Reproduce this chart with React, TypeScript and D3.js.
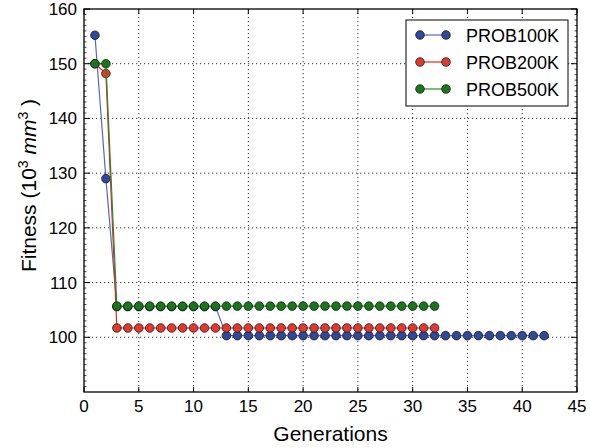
import React, { useRef, useEffect } from 'react'
import * as d3 from 'd3'

// fitness per generation
const prob100k = [155.2, 129.0, 105.6, 105.6, 105.6, 105.6, 105.6, 105.6, 105.6, 105.6, 105.6, 105.6,
  100.3, 100.3, 100.3, 100.3, 100.3, 100.3, 100.3, 100.3, 100.3, 100.3, 100.3, 100.3, 100.3, 100.3,
  100.3, 100.3, 100.3, 100.3, 100.3, 100.3, 100.3, 100.3, 100.3, 100.3, 100.3, 100.3, 100.3, 100.3,
  100.3, 100.3]
const prob200k = [150.0, 148.2, 101.7, 101.7, 101.7, 101.7, 101.7, 101.7, 101.7, 101.7, 101.7, 101.7,
  101.7, 101.7, 101.7, 101.7, 101.7, 101.7, 101.7, 101.7, 101.7, 101.7, 101.7, 101.7, 101.7, 101.7,
  101.7, 101.7, 101.7, 101.7, 101.7, 101.7]
const prob500k = [150.0, 150.0, 105.7, 105.7, 105.7, 105.7, 105.7, 105.7, 105.7, 105.7, 105.7, 105.7,
  105.7, 105.7, 105.7, 105.7, 105.7, 105.7, 105.7, 105.7, 105.7, 105.7, 105.7, 105.7, 105.7, 105.7,
  105.7, 105.7, 105.7, 105.7, 105.7, 105.7]

const seriesNames = ['PROB100K', 'PROB200K', 'PROB500K']
const xTicks = [0, 5, 10, 15, 20, 25, 30, 35, 40, 45]
const yTicks = [100, 110, 120, 130, 140, 150, 160]

const series = [
  { name: seriesNames[0], values: prob100k, line: '#5568c0', fill: '#2d4a9e' },
  { name: seriesNames[1], values: prob200k, line: '#e8231a', fill: '#e3392c' },
  { name: seriesNames[2], values: prob500k, line: '#2b8a2b', fill: '#187818' },
]

const W = 590
const H = 448
const margin = { top: 9, right: 13, bottom: 56, left: 84 }

export default function App() {
  const ref = useRef(null)

  useEffect(() => {
    const svg = d3.select(ref.current)
    svg.selectAll('*').remove()
    const font = 'Liberation Sans, Arial, sans-serif'

    const x = d3.scaleLinear().domain([0, 45]).range([margin.left, W - margin.right])
    const y = d3.scaleLinear().domain([90, 160]).range([H - margin.bottom, margin.top])
    const x0 = x.range()[0], x1 = x.range()[1]
    const yb = y.range()[0], yt = y.range()[1]

    svg.append('rect').attr('width', W).attr('height', H).attr('fill', 'white')

    // grid
    const grid = svg.append('g')
    grid.selectAll('line.gx').data(xTicks.slice(1, -1)).enter().append('line')
      .attr('x1', d => x(d)).attr('x2', d => x(d)).attr('y1', yt).attr('y2', yb)
    grid.selectAll('line.gy').data(yTicks.slice(0, -1)).enter().append('line')
      .attr('x1', x0).attr('x2', x1).attr('y1', d => y(d)).attr('y2', d => y(d))
    grid.selectAll('line')
      .attr('stroke', '#333').attr('stroke-width', 1).attr('stroke-dasharray', '1.2,2.8')

    // series
    series.forEach(s => {
      const pts = s.values.map((v, i) => [i + 1, v])
      const line = d3.line().x(d => x(d[0])).y(d => y(d[1]))
      svg.append('path').datum(pts).attr('d', line)
        .attr('fill', 'none').attr('stroke', s.line).attr('stroke-width', 1.2)
      svg.append('g').selectAll('circle').data(pts).enter().append('circle')
        .attr('cx', d => x(d[0])).attr('cy', d => y(d[1])).attr('r', 4.3)
        .attr('fill', s.fill).attr('stroke', '#1a1a1a').attr('stroke-width', 0.8)
    })

    // frame
    svg.append('rect').attr('x', x0).attr('y', yt).attr('width', x1 - x0).attr('height', yb - yt)
      .attr('fill', 'none').attr('stroke', 'black').attr('stroke-width', 1.3)

    // ticks inside on all sides, minor ticks on y
    const tk = svg.append('g').attr('stroke', 'black').attr('stroke-width', 1)
    xTicks.forEach(t => {
      tk.append('line').attr('x1', x(t)).attr('x2', x(t)).attr('y1', yb).attr('y2', yb - 5)
      tk.append('line').attr('x1', x(t)).attr('x2', x(t)).attr('y1', yt).attr('y2', yt + 5)
    })
    yTicks.forEach(t => {
      tk.append('line').attr('x1', x0).attr('x2', x0 + 6).attr('y1', y(t)).attr('y2', y(t))
      tk.append('line').attr('x1', x1).attr('x2', x1 - 6).attr('y1', y(t)).attr('y2', y(t))
    })
    d3.range(91, 160).filter(v => v % 10 !== 0).forEach(t => {
      tk.append('line').attr('x1', x0).attr('x2', x0 + 2.5).attr('y1', y(t)).attr('y2', y(t))
        .attr('stroke-width', 0.7)
      tk.append('line').attr('x1', x1).attr('x2', x1 - 2.5).attr('y1', y(t)).attr('y2', y(t))
        .attr('stroke-width', 0.7)
    })

    svg.append('g').selectAll('text').data(xTicks).enter().append('text')
      .attr('x', d => x(d)).attr('y', yb + 20).attr('text-anchor', 'middle')
      .style('font-family', font).style('font-size', '17px').text(d => d)
    svg.append('g').selectAll('text').data(yTicks).enter().append('text')
      .attr('x', x0 - 7).attr('y', d => y(d) + 6).attr('text-anchor', 'end')
      .style('font-family', font).style('font-size', '17px').text(d => d)

    svg.append('text').attr('x', (x0 + x1) / 2).attr('y', 441).attr('text-anchor', 'middle')
      .style('font-family', font).style('font-size', '21px').text('Generations')

    const yl = svg.append('text').attr('transform', `translate(36 ${(yt + yb) / 2 - 15}) rotate(-90)`)
      .attr('text-anchor', 'middle').style('font-family', font).style('font-size', '21px')
    yl.append('tspan').text('Fitness (10')
    yl.append('tspan').attr('dy', -8).style('font-size', '14px').text('3')
    yl.append('tspan').attr('dy', 8).text(' ')
    yl.append('tspan').style('font-style', 'italic').text('mm')
    yl.append('tspan').attr('dy', -8).style('font-size', '14px').text('3')
    yl.append('tspan').attr('dy', 8).text(' )')

    // legend
    const lg = svg.append('g')
    lg.append('rect').attr('x', 406).attr('y', 20).attr('width', 162).attr('height', 86)
      .attr('fill', 'white').attr('stroke', 'black').attr('stroke-width', 1)
    series.forEach((s, i) => {
      const ly = 35 + i * 27
      lg.append('line').attr('x1', 420).attr('x2', 446).attr('y1', ly).attr('y2', ly)
        .attr('stroke', s.line).attr('stroke-width', 1.2)
      ;[420, 446].forEach(cx => {
        lg.append('circle').attr('cx', cx).attr('cy', ly).attr('r', 4.3)
          .attr('fill', s.fill).attr('stroke', '#1a1a1a').attr('stroke-width', 0.8)
      })
      lg.append('text').attr('x', 466).attr('y', ly + 6.5).style('font-family', font)
        .style('font-size', '18px').text(s.name)
    })
  }, [])

  return <svg ref={ref} width={W} height={H} style={{ position: 'absolute', left: 0, top: 0 }} />
}
